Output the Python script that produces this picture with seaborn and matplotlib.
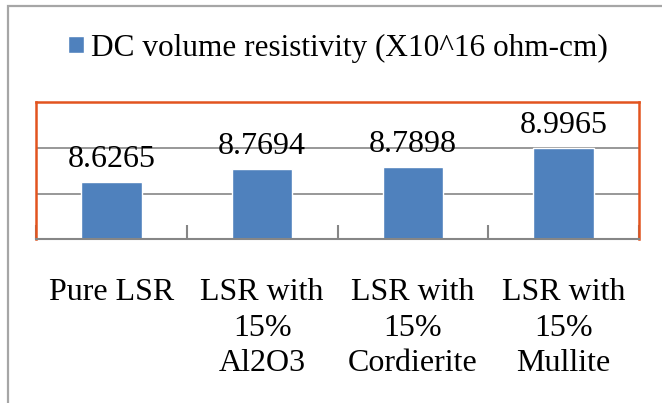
import matplotlib
matplotlib.use("Agg")
import matplotlib.pyplot as plt
from matplotlib.patches import Rectangle
import seaborn as sns
import pandas as pd

# Chart data
categories = ["Pure LSR", "LSR with\n15%\nAl2O3", "LSR with\n15%\nCordierite", "LSR with\n15%\nMullite"]
resistivity = [8.6265, 8.7694, 8.7898, 8.9965]
series_name = "DC volume resistivity (X10^16 ohm-cm)"
y_min, y_max, y_step = 8.0, 9.5, 0.5

sns.set_theme(style="white")
plt.rcParams["font.family"] = ["Liberation Serif", "DejaVu Serif"]
plt.rcParams["text.color"] = "black"
plt.rcParams["xtick.labelcolor"] = "black"

W, H, DPI = 662, 403, 100
fig = plt.figure(figsize=(W / DPI, H / DPI), dpi=DPI, facecolor="white")

# outer chart frame (left and top edges visible)
fig.add_artist(Rectangle((8 / W, -0.1), 1.2, (H - 6) / H + 0.1, transform=fig.transFigure,
                         fill=False, edgecolor="#A6A6A6", linewidth=1.6))

left, right, top, bottom = 36, 639, 102, 239.3
ax = fig.add_axes([left / W, (H - bottom) / H, (right - left) / W, (bottom - top) / H])

df = pd.DataFrame({"category": categories, "value": resistivity})
sns.barplot(data=df, x="category", y="value", color="#4F81BD", saturation=1,
            width=0.4, ax=ax, label=series_name)

ax.set_ylim(y_min, y_max)
ax.set_xlim(-0.5, len(categories) - 0.5)
ax.set_yticks([y_min + y_step * i for i in range(1, 3)])
ax.yaxis.grid(True, color="#868686", linewidth=1.2)
ax.set_axisbelow(True)
ax.tick_params(axis="y", left=False, labelleft=False)
ax.set_xlabel("")
ax.set_ylabel("")

# plot-area border
for side in ["left", "right", "top"]:
    ax.spines[side].set_color("#E2541F")
    ax.spines[side].set_linewidth(1.8)
    ax.spines[side].set_visible(True)
ax.spines["bottom"].set_color("#868686")
ax.spines["bottom"].set_linewidth(1.5)
ax.spines["bottom"].set_visible(True)

# category labels, with tick marks at the category boundaries
ax.set_xticks(range(len(categories)))
ax.set_xticklabels(categories, fontsize=23, linespacing=1.29, color="black")
ax.tick_params(axis="x", which="major", length=0, pad=28)
ax.set_xticks([i - 0.5 for i in range(len(categories) + 1)], minor=True)
ax.tick_params(axis="x", which="minor", direction="in", length=10, width=1.5,
               color="#868686", bottom=True)

# value labels above bars
ax.bar_label(ax.containers[0], labels=[f"{v:.4f}" for v in resistivity],
             fontsize=23, padding=6, color="black")

leg = ax.legend(loc="center left", bbox_to_anchor=(68 / W, 1 - 48 / H),
                bbox_transform=fig.transFigure, frameon=False, fontsize=22.5,
                handlelength=0.5, handleheight=0.5, handletextpad=0.25,
                borderpad=0, borderaxespad=0, labelcolor="black")

fig.savefig("out.png", dpi=DPI, facecolor="white")
